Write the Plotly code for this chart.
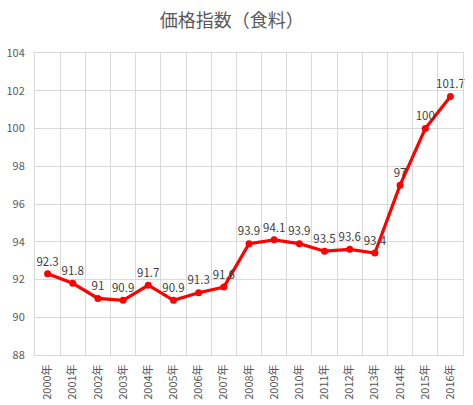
import plotly.graph_objects as go

years = ["2000年", "2001年", "2002年", "2003年", "2004年", "2005年", "2006年", "2007年", "2008年",
         "2009年", "2010年", "2011年", "2012年", "2013年", "2014年", "2015年", "2016年"]
food_index = [92.3, 91.8, 91, 90.9, 91.7, 90.9, 91.3, 91.6, 93.9,
              94.1, 93.9, 93.5, 93.6, 93.4, 97, 100, 101.7]
y_ticks = [88, 90, 92, 94, 96, 98, 100, 102, 104]

font_family = "Noto Sans CJK JP, Noto Sans, sans-serif"

fig = go.Figure(go.Scatter(
    x=years,
    y=food_index,
    mode="lines+markers+text",
    line=dict(color="#ff0000", width=3.2),
    marker=dict(color="#ff0000", size=7),
    text=[str(v) for v in food_index],
    textposition="top center",
    textfont=dict(size=11.5, color="#404040"),
    cliponaxis=False,
    hoverinfo="skip",
))

fig.update_layout(
    width=473,
    height=405,
    margin=dict(l=35, r=10, t=53, b=50),
    paper_bgcolor="white",
    plot_bgcolor="white",
    showlegend=False,
    font=dict(family=font_family, color="#595959"),
    title=dict(text="価格指数（食料）", x=0.49, xref="container", y=0.95, yanchor="middle",
               font=dict(size=18, color="#595959")),
)

fig.update_xaxes(
    type="category",
    range=[-0.5, len(years) - 0.5],
    tickson="boundaries",
    showgrid=True,
    gridcolor="#d9d9d9",
    gridwidth=1,
    tickangle=-90,
    tickfont=dict(size=11, color="#595959"),
    ticks="",
    ticklabelstandoff=4,
    showline=True,
    linecolor="#d9d9d9",
    mirror=True,
    automargin=False,
)

fig.update_yaxes(
    range=[88, 104],
    tickvals=y_ticks,
    showgrid=True,
    gridcolor="#d9d9d9",
    gridwidth=1,
    tickfont=dict(size=11, color="#595959"),
    ticks="",
    ticklabelstandoff=7,
    zeroline=False,
    showline=True,
    linecolor="#d9d9d9",
    mirror=True,
    automargin=False,
)

# the page body has a default 8px margin, drop it so the figure fills the window
fig.write_html("out.html", config={"displayModeBar": False},
               post_script="document.body.style.margin='0';")
